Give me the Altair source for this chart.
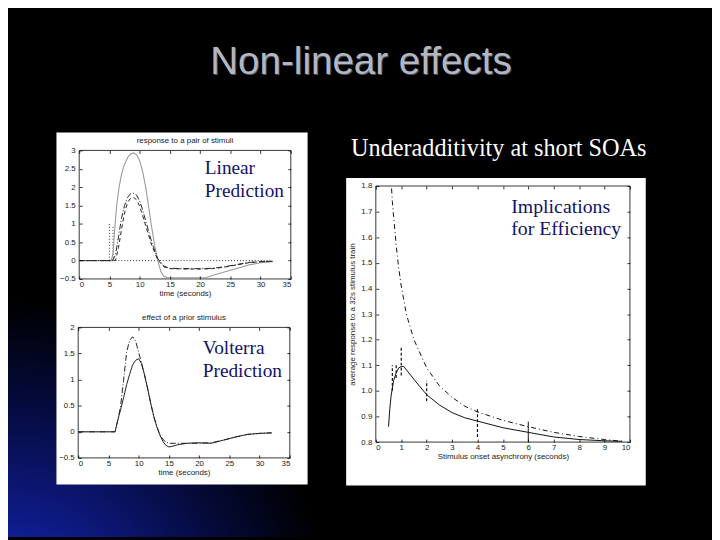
import altair as alt
import pandas as pd

W, H = 712, 532
SANS = "Liberation Sans"
SERIF = "Liberation Serif"
NAVY = "#12126c"

# ---------------- data ----------------
# panel 1: response to a pair of stimuli
p1_sum_t = [0, 5.3, 5.6, 5.9, 6.2, 6.6, 7.0, 7.4, 8.0, 8.5, 9.0, 9.5, 10.0, 10.5, 11.0, 11.5, 12.0, 12.5, 13.0, 13.5, 14.0, 14.6, 18, 21, 23, 26.2, 28, 30, 32]
p1_sum_y = [0, 0, 0.2, 0.9, 1.5, 2.0, 2.35, 2.58, 2.8, 2.9, 2.93, 2.88, 2.72, 2.42, 2.0, 1.45, 0.9, 0.4, 0.0, -0.3, -0.43, -0.47, -0.47, -0.46, -0.36, -0.21, -0.12, -0.06, -0.03]
p1_dd_t = [0, 5.5, 6, 6.5, 7, 7.5, 8, 8.5, 9, 9.5, 10, 10.5, 11, 12, 13, 14, 15, 18, 20, 22, 24, 26, 28, 30, 32]
p1_dd_y = [0, 0, 0.15, 0.65, 1.15, 1.5, 1.72, 1.82, 1.83, 1.78, 1.62, 1.38, 1.08, 0.5, 0.05, -0.15, -0.21, -0.22, -0.22, -0.21, -0.17, -0.11, -0.05, -0.03, -0.02]
p1_da_t = [0, 6, 6.5, 7, 7.5, 8, 8.5, 9, 9.5, 10, 10.5, 11, 12, 13, 14, 15, 18, 20, 22, 24, 26, 28, 30, 32]
p1_da_y = [0, 0, 0.35, 0.85, 1.3, 1.58, 1.7, 1.72, 1.65, 1.48, 1.22, 0.95, 0.42, 0.02, -0.17, -0.22, -0.23, -0.23, -0.22, -0.18, -0.12, -0.06, -0.03, -0.02]
p1_stim_t = [5.0, 5.6]
p1_stim_h = [1.0, 0.95]
p1_base_t = [5, 32]
p1_base_y = [0, 0]

# panel 2: effect of a prior stimulus
p2_dd_t = [0, 6.1, 6.5, 7, 7.5, 8, 8.5, 9, 9.5, 10, 10.5, 11, 11.5, 12, 12.5, 13, 13.6, 14.3, 15, 16, 18, 20, 22, 24, 26, 28, 30, 32]
p2_dd_y = [0, 0, 0.2, 0.48, 0.98, 1.52, 1.75, 1.82, 1.74, 1.52, 1.3, 1.07, 0.82, 0.55, 0.29, 0.1, -0.08, -0.18, -0.22, -0.22, -0.22, -0.22, -0.21, -0.16, -0.1, -0.05, -0.03, -0.02]
p2_so_t = [0, 6.1, 6.5, 7, 7.5, 8, 8.5, 9, 9.5, 10, 10.5, 11, 11.5, 12, 12.5, 13, 13.5, 14, 14.5, 15, 15.5, 16.4, 18, 20, 22, 24, 26, 28, 30, 32]
p2_so_y = [0, 0, 0.2, 0.42, 0.65, 0.9, 1.1, 1.28, 1.37, 1.4, 1.3, 1.08, 0.82, 0.54, 0.3, 0.1, -0.06, -0.18, -0.26, -0.29, -0.28, -0.25, -0.22, -0.21, -0.22, -0.16, -0.1, -0.05, -0.03, -0.02]

# panel 3: average response vs SOA
p3_so_x = [0.5, 0.55, 0.6, 0.7, 0.8, 0.9, 1.0, 1.1, 1.3, 1.5, 2.0, 2.5, 3.0, 3.5, 4.0, 5.0, 6.0, 7.0, 8.0, 9.0, 9.7]
p3_so_y = [0.86, 0.93, 0.98, 1.04, 1.07, 1.09, 1.095, 1.095, 1.07, 1.045, 0.985, 0.945, 0.915, 0.895, 0.882, 0.856, 0.838, 0.82, 0.81, 0.805, 0.803]
p3_dd_x = [0.62, 0.65, 0.7, 0.8, 0.9, 1.0, 1.2, 1.5, 2.0, 2.5, 3.0, 3.5, 4.0, 5.0, 6.0, 7.0, 8.0, 9.0, 9.7]
p3_dd_y = [1.79, 1.74, 1.68, 1.57, 1.48, 1.41, 1.30, 1.20, 1.09, 1.02, 0.975, 0.94, 0.918, 0.885, 0.86, 0.838, 0.822, 0.81, 0.803]
eb_x = [0.65, 0.8, 1.0, 2.0, 4.0, 6.0]
eb_lo = [1.00, 1.05, 1.06, 0.96, 0.82, 0.80]
eb_hi = [1.10, 1.10, 1.17, 1.04, 0.93, 0.88]
eb_solid = [False, False, False, False, False, True]

x_ticks_time = [0, 5, 10, 15, 20, 25, 30, 35]
y_ticks_p1 = [-0.5, 0, 0.5, 1, 1.5, 2, 2.5, 3]
y_ticks_p2 = [-0.5, 0, 0.5, 1, 1.5, 2]
x_ticks_soa = [0, 1, 2, 3, 4, 5, 6, 7, 8, 9, 10]
y_ticks_p3 = [0.8, 0.9, 1.0, 1.1, 1.2, 1.3, 1.4, 1.5, 1.6, 1.7, 1.8]


def qs(dom, rng):
    return alt.Scale(domain=dom, range=rng, nice=False, zero=False)


def line(xs, ys, xsc, ysc, color, dash=None, width=1.0):
    df = pd.DataFrame({"x": xs, "y": ys, "o": list(range(len(xs)))})
    kw = dict(color=color, strokeWidth=width)
    if dash:
        kw["strokeDash"] = dash
    return alt.Chart(df).mark_line(**kw).encode(
        x=alt.X("x:Q", scale=xsc, axis=None),
        y=alt.Y("y:Q", scale=ysc, axis=None),
        order="o:Q",
    )


def axis_layer(ch, vals, sc, orient, offset, labels=False, fmt=None, title=None, tick=3, lpad=3, tpad=2):
    kw = dict(orient=orient, offset=offset, values=vals, labels=labels, domain=False, grid=False,
              labelFont=SANS, labelFontSize=8, labelColor="#222", labelPadding=lpad,
              titleFont=SANS, titleFontSize=8, titleFontWeight="normal", titleColor="#222",
              titlePadding=tpad, title=title, zindex=2)
    if tick > 0:
        kw.update(ticks=True, tickSize=tick, tickColor="#000", tickWidth=0.8)
    else:
        kw.update(ticks=False, tickSize=0)
    if fmt:
        kw["format"] = fmt
    df = pd.DataFrame({"v": vals})
    enc = alt.X("v:Q", scale=sc, axis=alt.Axis(**kw)) if ch == "x" else alt.Y("v:Q", scale=sc, axis=alt.Axis(**kw))
    return alt.Chart(df).mark_point(opacity=0, size=1).encode(**{ch: enc})


def frame(xdom, xrng, ydom, yrng, xvals, yvals, yfmt, xtitle, ytitle=None, xfmt=None):
    xsc, ysc = qs(xdom, xrng), qs(ydom, yrng)
    x0, x1 = xrng
    yb, yt = yrng
    out = []
    box = pd.DataFrame({"a": [xdom[0]], "b": [xdom[1]], "c": [ydom[0]], "d": [ydom[1]]})
    out.append(alt.Chart(box).mark_rect(filled=False, stroke="#000", strokeWidth=0.8).encode(
        x=alt.X("a:Q", scale=xsc, axis=None), x2="b:Q",
        y=alt.Y("c:Q", scale=ysc, axis=None), y2="d:Q"))
    out.append(axis_layer("x", xvals, xsc, "bottom", yb - H, labels=True, fmt=xfmt, title=xtitle, tick=0, lpad=2, tpad=1))
    out.append(axis_layer("y", yvals, ysc, "left", -x0, labels=True, fmt=yfmt, title=ytitle, tick=0, lpad=4, tpad=4))
    out.append(axis_layer("x", xvals, xsc, "top", -yb))
    out.append(axis_layer("x", xvals, xsc, "bottom", yt - H))
    out.append(axis_layer("y", yvals, ysc, "right", x0 - W))
    out.append(axis_layer("y", yvals, ysc, "left", -x1))
    return xsc, ysc, out


def text(t, x, y, size, color, font, align="left", lh=None, weight="normal"):
    kw = dict(font=font, fontSize=size, color=color, align=align, baseline="alphabetic", fontWeight=weight)
    if lh:
        kw.update(lineBreak="\n", lineHeight=lh)
    return alt.Chart(pd.DataFrame({"t": [t]})).mark_text(**kw).encode(
        text="t:N", x=alt.value(x), y=alt.value(y))


layers = []

grad = alt.RadialGradient(
    gradient="radial", x1=0, y1=1, r1=0, x2=0, y2=1, r2=0.46,
    stops=[alt.GradientStop(color="#2034c4", offset=0),
           alt.GradientStop(color="#0f1c8c", offset=0.3),
           alt.GradientStop(color="#050a3a", offset=0.7),
           alt.GradientStop(color="#000000", offset=1)])
layers.append(alt.Chart(pd.DataFrame({"a": [0]})).mark_rect(color=grad).encode(
    x=alt.value(0), x2=alt.value(W), y=alt.value(0), y2=alt.value(H)))

for (a, b, c, d) in [(49, 303, 123, 479), (342, 645, 169, 480)]:
    layers.append(alt.Chart(pd.DataFrame({"a": [0]})).mark_rect(color="#ffffff").encode(
        x=alt.value(a), x2=alt.value(b), y=alt.value(c), y2=alt.value(d)))

# ---- panel 1 ----
xs1, ys1, fr1 = frame([0, 35], [72, 286], [-0.5, 3], [271, 141], x_ticks_time, y_ticks_p1, ".1~f", "time (seconds)")
layers += fr1
layers.append(line(p1_base_t, p1_base_y, xs1, ys1, "#333", dash=[1, 2]))
stim = pd.DataFrame({"t": p1_stim_t, "h": p1_stim_h, "z": [0] * len(p1_stim_t)})
layers.append(alt.Chart(stim).mark_rule(color="#333", strokeDash=[1, 2], strokeWidth=1).encode(
    x=alt.X("t:Q", scale=xs1, axis=None), y=alt.Y("z:Q", scale=ys1, axis=None), y2="h:Q"))
layers.append(line(p1_sum_t, p1_sum_y, xs1, ys1, "#9a9a9a", width=1.1))
layers.append(line(p1_dd_t, p1_dd_y, xs1, ys1, "#222", dash=[6, 2, 1, 2]))
layers.append(line(p1_da_t, p1_da_y, xs1, ys1, "#222", dash=[4, 3]))
layers.append(text("response to a pair of stimuli", 179, 134, 8, "#222", SANS, align="center"))

# ---- panel 2 ----
xs2, ys2, fr2 = frame([0, 35], [71, 285], [-0.5, 2], [452, 320], x_ticks_time, y_ticks_p2, ".1~f", "time (seconds)")
layers += fr2
layers.append(line(p2_so_t, p2_so_y, xs2, ys2, "#222"))
layers.append(line(p2_dd_t, p2_dd_y, xs2, ys2, "#222", dash=[6, 2, 1, 2]))
layers.append(text("effect of a prior stimulus", 178, 313, 8, "#222", SANS, align="center"))

# ---- panel 3 ----
xs3, ys3, fr3 = frame([0, 10], [372, 629], [0.8, 1.8], [436, 177], x_ticks_soa, y_ticks_p3, ".1f",
                      "Stimulus onset asynchrony (seconds)", ytitle="average response to a 32s stimulus train")
layers += fr3
eb = pd.DataFrame({"x": eb_x, "lo": eb_lo, "hi": eb_hi, "s": eb_solid})
layers.append(alt.Chart(eb[~eb.s]).mark_rule(color="#111", strokeDash=[3, 2], strokeWidth=1.2).encode(
    x=alt.X("x:Q", scale=xs3, axis=None), y=alt.Y("lo:Q", scale=ys3, axis=None), y2="hi:Q"))
layers.append(alt.Chart(eb[eb.s]).mark_rule(color="#111", strokeWidth=1).encode(
    x=alt.X("x:Q", scale=xs3, axis=None), y=alt.Y("lo:Q", scale=ys3, axis=None), y2="hi:Q"))
layers.append(line(p3_so_x, p3_so_y, xs3, ys3, "#111"))
layers.append(line(p3_dd_x, p3_dd_y, xs3, ys3, "#111", dash=[5, 3, 1, 3]))

# ---- slide texts ----
layers.append(text("Non-linear effects", 358, 65, 39, "#50525a", SANS, align="center"))
layers.append(text("Non-linear effects", 357, 64, 39, "#b3b7c3", SANS, align="center"))
layers.append(text("Underadditivity at short SOAs", 347, 147, 24.5, "#ffffff", SERIF))
layers.append(text("Linear\nPrediction", 199, 165, 19.5, NAVY, SERIF, lh=23))
layers.append(text("Volterra\nPrediction", 197, 347, 19.5, NAVY, SERIF, lh=23))
layers.append(text("Implications\nfor Efficiency", 509, 204, 20, NAVY, SERIF, lh=23))

chart = alt.layer(*layers).resolve_scale(x="independent", y="independent").resolve_axis(
    x="independent", y="independent").properties(
    width=W, height=H, padding=0, background="#000000",
    autosize=alt.AutoSizeParams(type="none")).configure_view(strokeWidth=0)

chart.save("out.html", embed_options={"renderer": "svg", "actions": False})
